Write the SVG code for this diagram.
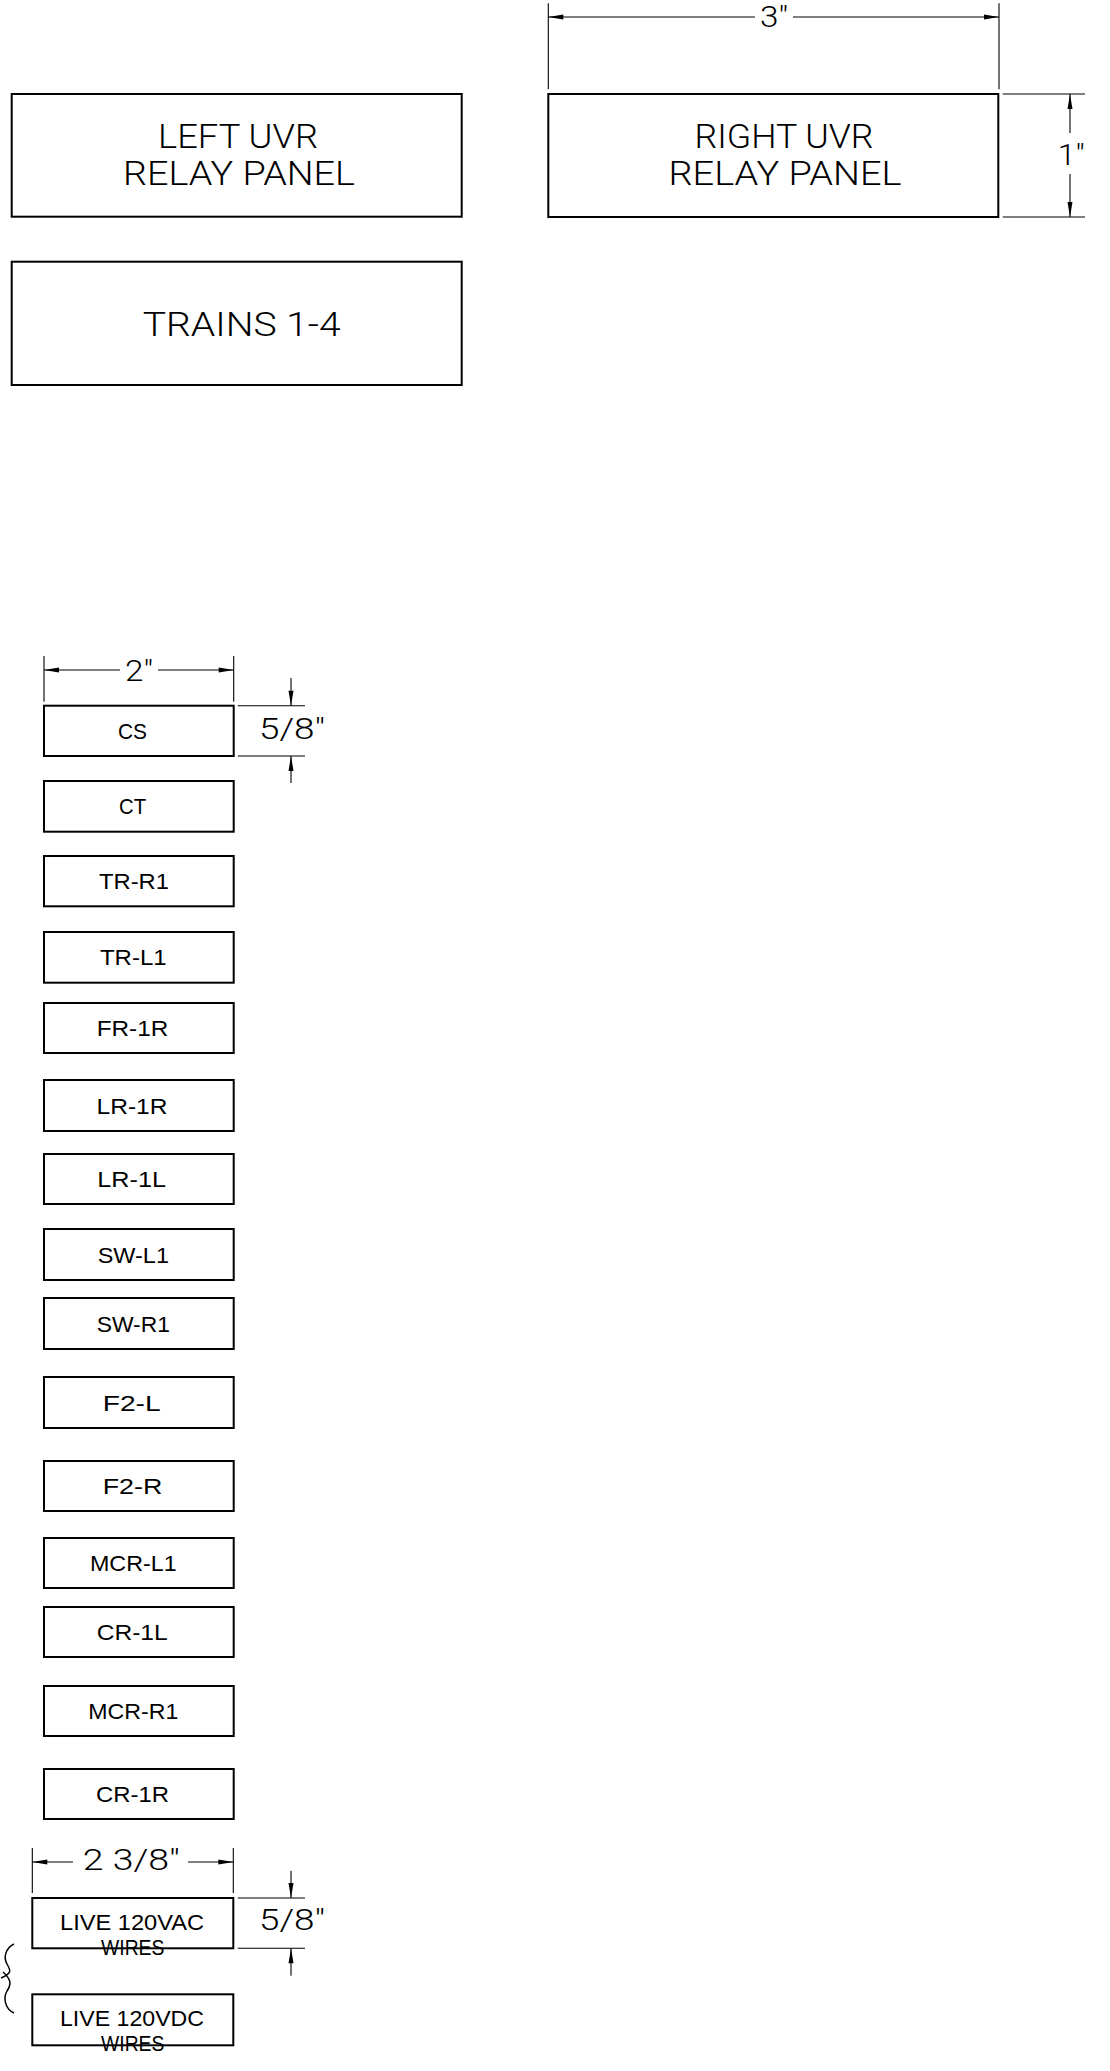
<svg xmlns="http://www.w3.org/2000/svg" width="1110" height="2071" viewBox="0 0 1110 2071">
<style>
.box{fill:none;stroke:#000;stroke-width:2}
.dim{fill:none;stroke:#000;stroke-width:1.1}
.big{font-family:Roboto,Lato,"Liberation Sans",sans-serif;font-weight:300;font-size:34px;fill:#000;text-anchor:middle}
.sm{font-family:"Liberation Sans",Arial,sans-serif;font-size:22px;fill:#000;text-anchor:middle}
.lv{font-family:"Liberation Sans",Arial,sans-serif;font-size:22px;fill:#000;text-anchor:middle}
.dt{font-family:Roboto,Lato,"Liberation Sans",sans-serif;font-weight:300;font-size:29px;fill:#000;text-anchor:middle}
.dl{fill:none;stroke:#000;stroke-width:1.1;marker-end:url(#arr)}
.br{fill:none;stroke:#000;stroke-width:1.5}
</style>
<defs>
<marker id="arr" markerUnits="userSpaceOnUse" markerWidth="16" markerHeight="6" refX="15" refY="3" orient="auto" overflow="visible">
<path d="M0,0.5 L15,3 L0,5.5 z" fill="#000"/>
</marker>
</defs>
<rect width="1110" height="2071" fill="#fff"/>

<g id="left-uvr">
<rect class="box" x="11.7" y="94" width="450" height="122.7"/>
<text class="big" x="238" y="148" textLength="160" lengthAdjust="spacingAndGlyphs">LEFT UVR</text>
<text class="big" x="239" y="185" textLength="232" lengthAdjust="spacingAndGlyphs">RELAY PANEL</text>
</g>
<g id="right-uvr">
<rect class="box" x="548.3" y="94" width="450" height="123"/>
<text class="big" x="784" y="148" textLength="179" lengthAdjust="spacingAndGlyphs">RIGHT UVR</text>
<text class="big" x="785" y="185" textLength="233" lengthAdjust="spacingAndGlyphs">RELAY PANEL</text>
</g>
<g id="trains">
<rect class="box" x="11.7" y="261.7" width="450" height="123.3"/>
<text class="big" x="241.7" y="335.5" textLength="198" lengthAdjust="spacingAndGlyphs">TRAINS 1-4</text>
</g>

<g id="cs"><rect class="box" x="44" y="705.7" width="189.7" height="50.3"/><text class="sm" x="132.5" y="738.8" textLength="29" lengthAdjust="spacingAndGlyphs">CS</text></g>
<g id="ct"><rect class="box" x="44" y="781" width="189.7" height="50.7"/><text class="sm" x="132.5" y="814.3" textLength="27" lengthAdjust="spacingAndGlyphs">CT</text></g>
<g id="tr-r1"><rect class="box" x="44" y="856" width="189.7" height="50.3"/><text class="sm" x="134" y="889.1" textLength="70" lengthAdjust="spacingAndGlyphs">TR-R1</text></g>
<g id="tr-l1"><rect class="box" x="44" y="932" width="189.7" height="50.7"/><text class="sm" x="133.3" y="965.3" textLength="66.7" lengthAdjust="spacingAndGlyphs">TR-L1</text></g>
<g id="fr-1r"><rect class="box" x="44" y="1003" width="189.7" height="50"/><text class="sm" x="132.5" y="1036" textLength="71.7" lengthAdjust="spacingAndGlyphs">FR-1R</text></g>
<g id="lr-1r"><rect class="box" x="44" y="1080" width="189.7" height="51"/><text class="sm" x="132" y="1113.5" textLength="71" lengthAdjust="spacingAndGlyphs">LR-1R</text></g>
<g id="lr-1l"><rect class="box" x="44" y="1154" width="189.7" height="50"/><text class="sm" x="131.7" y="1187" textLength="68.7" lengthAdjust="spacingAndGlyphs">LR-1L</text></g>
<g id="sw-l1"><rect class="box" x="44" y="1229" width="189.7" height="51"/><text class="sm" x="133.3" y="1262.5" textLength="71.3" lengthAdjust="spacingAndGlyphs">SW-L1</text></g>
<g id="sw-r1"><rect class="box" x="44" y="1298" width="189.7" height="51"/><text class="sm" x="133.3" y="1331.5" textLength="73.3" lengthAdjust="spacingAndGlyphs">SW-R1</text></g>
<g id="f2-l"><rect class="box" x="44" y="1377" width="189.7" height="51"/><text class="sm" x="131.7" y="1410.5" textLength="58" lengthAdjust="spacingAndGlyphs">F2-L</text></g>
<g id="f2-r"><rect class="box" x="44" y="1461" width="189.7" height="50"/><text class="sm" x="132.5" y="1494" textLength="59.7" lengthAdjust="spacingAndGlyphs">F2-R</text></g>
<g id="mcr-l1"><rect class="box" x="44" y="1538" width="189.7" height="50"/><text class="sm" x="133.3" y="1571" textLength="86.7" lengthAdjust="spacingAndGlyphs">MCR-L1</text></g>
<g id="cr-1l"><rect class="box" x="44" y="1607" width="189.7" height="50"/><text class="sm" x="132.2" y="1640" textLength="71" lengthAdjust="spacingAndGlyphs">CR-1L</text></g>
<g id="mcr-r1"><rect class="box" x="44" y="1686" width="189.7" height="50"/><text class="sm" x="133.3" y="1719" textLength="90" lengthAdjust="spacingAndGlyphs">MCR-R1</text></g>
<g id="cr-1r"><rect class="box" x="44" y="1769" width="189.7" height="50"/><text class="sm" x="132.5" y="1802" textLength="73" lengthAdjust="spacingAndGlyphs">CR-1R</text></g>

<g id="live-120vac">
<rect class="box" x="32.3" y="1898" width="201" height="50.3"/>
<text class="lv" x="132" y="1930" textLength="144" lengthAdjust="spacingAndGlyphs">LIVE 120VAC</text>
<text class="lv" x="132.7" y="1955" textLength="63.3" lengthAdjust="spacingAndGlyphs">WIRES</text>
</g>
<g id="live-120vdc">
<rect class="box" x="32.3" y="1994.3" width="201" height="51"/>
<text class="lv" x="132" y="2025.7" textLength="144" lengthAdjust="spacingAndGlyphs">LIVE 120VDC</text>
<text class="lv" x="132.7" y="2051" textLength="63.3" lengthAdjust="spacingAndGlyphs">WIRES</text>
</g>

<g id="connectors">
<path class="br" d="M14,1944 C6,1948 3,1957 7,1964 C11,1971 12,1973 1,1978 M3,1972 C12,1980 11,1985 7,1991 C3,1998 5,2009 14,2013"/>
</g>

<g id="dimensions">
<path class="dim" d="M548.3,3.3 V89.3 M999,3.3 V89.3"/>
<line class="dl" x1="755" y1="17" x2="548.3" y2="17"/>
<line class="dl" x1="793" y1="17" x2="999" y2="17"/>
<text class="dt" x="774" y="27.3" textLength="28" lengthAdjust="spacingAndGlyphs">3"</text>
<path class="dim" d="M1002.7,94 H1085 M1002.7,217 H1085"/>
<line class="dl" x1="1070" y1="133" x2="1070" y2="94"/>
<line class="dl" x1="1070" y1="174" x2="1070" y2="217"/>
<text class="dt" x="1071.3" y="165" textLength="27" lengthAdjust="spacingAndGlyphs">1"</text>
<path class="dim" d="M44,656 V701.7 M233.7,656 V701.7"/>
<line class="dl" x1="120" y1="670" x2="44" y2="670"/>
<line class="dl" x1="158" y1="670" x2="233.7" y2="670"/>
<text class="dt" x="139" y="680.7" textLength="28" lengthAdjust="spacingAndGlyphs">2"</text>
<path class="dim" d="M237.7,705.7 H305 M237.7,756 H305"/>
<line class="dl" x1="291" y1="678" x2="291" y2="705.7"/>
<line class="dl" x1="291" y1="783" x2="291" y2="756"/>
<text class="dt" x="292" y="739" font-size="31" textLength="66" lengthAdjust="spacingAndGlyphs">5/8"</text>
<path class="dim" d="M32.3,1848 V1893 M233.3,1848 V1893"/>
<line class="dl" x1="73" y1="1862" x2="32.3" y2="1862"/>
<line class="dl" x1="188" y1="1862" x2="233.3" y2="1862"/>
<text class="dt" x="131.3" y="1870" textLength="97" lengthAdjust="spacingAndGlyphs">2 3/8"</text>
<path class="dim" d="M237.7,1898 H305 M237.7,1948.3 H305"/>
<line class="dl" x1="291" y1="1870.7" x2="291" y2="1898"/>
<line class="dl" x1="291" y1="1975.7" x2="291" y2="1948.3"/>
<text class="dt" x="292" y="1930" font-size="31" textLength="66" lengthAdjust="spacingAndGlyphs">5/8"</text>
</g>
</svg>
